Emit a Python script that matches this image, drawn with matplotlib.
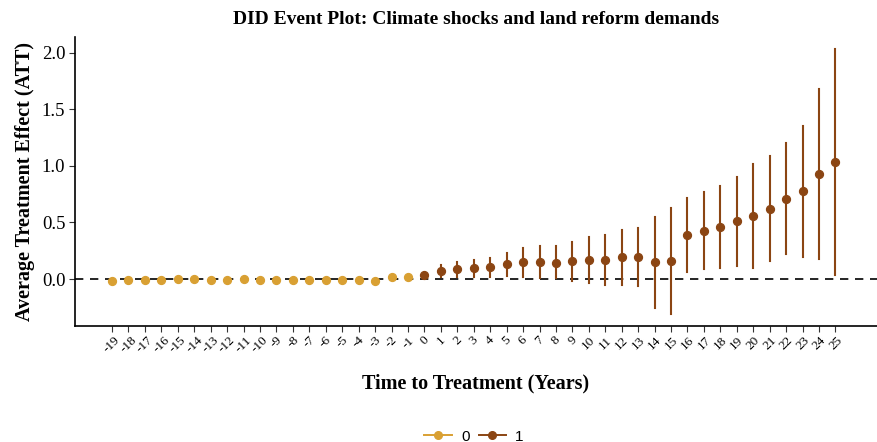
import matplotlib
matplotlib.use("Agg")
import matplotlib.pyplot as plt
from matplotlib.lines import Line2D

# event times and estimates
pre_t = list(range(-19, 0))
pre_att = [-0.02, -0.012, -0.005, -0.005, 0.004, 0.004, -0.005, -0.007, 0.0, -0.005,
           -0.005, -0.005, -0.005, -0.005, -0.005, -0.005, -0.015, 0.02, 0.018]
pre_lo = [-0.025, -0.017, -0.01, -0.01, -0.001, -0.001, -0.01, -0.012, -0.005, -0.01,
          -0.01, -0.01, -0.01, -0.01, -0.01, -0.01, -0.02, 0.015, 0.013]
pre_hi = [-0.015, -0.007, 0.0, 0.0, 0.009, 0.009, 0.0, -0.002, 0.005, 0.0,
          0.0, 0.0, 0.0, 0.0, 0.0, 0.0, -0.01, 0.025, 0.023]

post_t = list(range(0, 26))
post_att = [0.038, 0.071, 0.086, 0.097, 0.106, 0.13, 0.147, 0.15, 0.145, 0.156,
            0.171, 0.171, 0.192, 0.195, 0.147, 0.156, 0.389, 0.428, 0.457, 0.51,
            0.555, 0.622, 0.711, 0.776, 0.926, 1.035]
post_lo = [0.03, 0.015, 0.02, 0.02, 0.02, 0.027, 0.02, 0.006, 0.006, -0.02,
           -0.035, -0.056, -0.05, -0.059, -0.257, -0.313, 0.065, 0.086, 0.1, 0.115,
           0.094, 0.162, 0.224, 0.195, 0.177, 0.038]
post_hi = [0.046, 0.127, 0.15, 0.168, 0.19, 0.233, 0.274, 0.292, 0.292, 0.33,
           0.372, 0.39, 0.434, 0.448, 0.549, 0.631, 0.714, 0.767, 0.82, 0.9,
           1.015, 1.086, 1.2, 1.354, 1.68, 2.035]

y_ticks = [0.0, 0.5, 1.0, 1.5, 2.0]
gold = "#D9A033"
brown = "#8B4513"

plt.rcParams['font.family'] = ['Liberation Serif', 'DejaVu Serif']

fig = plt.figure(figsize=(8.78, 4.42), dpi=100)
ax = fig.add_axes([0.0854, 0.2624, 0.913, 0.654])

ax.axhline(0, color="black", lw=1.2, ls=(0, (5, 4)), zorder=1)

for t, a, lo, hi in zip(pre_t, pre_att, pre_lo, pre_hi):
    ax.plot([t, t], [lo, hi], color=gold, lw=1.5, zorder=2)
ax.scatter(pre_t, pre_att, color=gold, s=32, zorder=3)

for t, a, lo, hi in zip(post_t, post_att, post_lo, post_hi):
    ax.plot([t, t], [lo, hi], color=brown, lw=1.5, zorder=2)
ax.scatter(post_t, post_att, color=brown, s=32, zorder=3)

ax.set_xlim(-21.25, 27.5)
ax.set_ylim(-0.415, 2.14)
ax.set_yticks(y_ticks)
ax.set_yticklabels(["%.1f" % v for v in y_ticks], fontsize=13.5)
all_t = pre_t + post_t
ax.set_xticks(all_t)
ax.set_xticklabels([str(t) for t in all_t], rotation=45, fontsize=9.5,
                   ha="center", va="top")
ax.tick_params(axis="both", length=4, width=0.8, color="#333333")
ax.tick_params(axis="y", pad=3)
ax.tick_params(axis="x", pad=2)

for side in ["top", "right"]:
    ax.spines[side].set_visible(False)
for side in ["left", "bottom"]:
    ax.spines[side].set_linewidth(1.2)

ax.set_title("DID Event Plot: Climate shocks and land reform demands",
             fontsize=14, fontweight="bold", pad=9)
ax.set_xlabel("Time to Treatment (Years)", fontsize=14.5, fontweight="bold", labelpad=13)
ax.set_ylabel("Average Treatment Effect (ATT)", fontsize=14.5, fontweight="bold", labelpad=5)

handles = [Line2D([0], [0], color=gold, marker="o", markersize=5.5, lw=1.4),
           Line2D([0], [0], color=brown, marker="o", markersize=5.5, lw=1.4)]
fig.legend(handles, ["0", "1"], loc="lower center", bbox_to_anchor=(0.54, -0.035),
           ncol=2, frameon=False, handlelength=1.8, handletextpad=0.6,
           columnspacing=0.6, prop={"family": "Liberation Sans", "size": 11})

fig.savefig("out.png", dpi=100)
plt.close()
